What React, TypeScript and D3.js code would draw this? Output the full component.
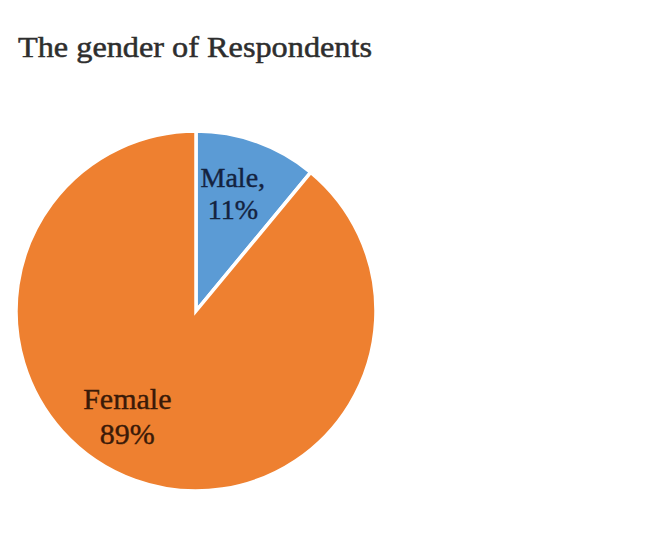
import React from "react";
import * as d3 from "d3";

const categories = ["Male", "Female"];
const values = [11, 89];
const colors = ["#5B9BD5", "#EE8030"];
const title = "The gender of Respondents";

export default function App() {
  const width = 648;
  const height = 544;
  const cx = 196;
  const cy = 311;
  const r = 180;

  const pie = d3.pie<number>().sort(null).value((d) => d);
  const arcs = pie(values);
  const arc = d3.arc<d3.PieArcDatum<number>>().innerRadius(0).outerRadius(r);
  const labelArc = d3.arc<d3.PieArcDatum<number>>().innerRadius(r * 0.68).outerRadius(r * 0.68);

  const nudge = [-0.04, 0.25];
  const fontSizes = [28, 30];
  const textColors = ["#14233f", "#3a1a08"];

  return (
    <svg width={width} height={height} style={{ position: "absolute", left: 0, top: 0, background: "#fff" }}>
      <text
        x={18}
        y={57}
        fontFamily="'Liberation Serif', 'DejaVu Serif', serif"
        fontSize={29}
        fill="#2e2e2e"
        stroke="#2e2e2e"
        strokeWidth={0.5}
        textLength={354}
        lengthAdjust="spacingAndGlyphs"
      >
        {title}
      </text>
      <g transform={`translate(${cx},${cy})`}>
        {arcs.map((a, i) => (
          <path key={i} d={arc(a) || ""} fill={colors[i]} stroke="#fff" strokeWidth={3.5} strokeLinejoin="miter" />
        ))}
        {arcs.map((a, i) => {
          const mid = (a.startAngle + a.endAngle) / 2 + nudge[i];
          const [lx, ly] = labelArc.centroid({ ...a, startAngle: mid, endAngle: mid });
          return (
            <text
              key={"l" + i}
              x={lx}
              y={ly}
              textAnchor="middle"
              fontFamily="'Liberation Serif', 'DejaVu Serif', serif"
              fontSize={fontSizes[i]}
              fill={textColors[i]}
              stroke={textColors[i]}
              strokeWidth={0.4}
            >
              <tspan x={lx} dy={i === 0 ? "-0.25em" : "-0.1em"}>
                {categories[i] + (i === 0 ? "," : "")}
              </tspan>
              <tspan x={lx} dy="1.15em">
                {values[i] + "%"}
              </tspan>
            </text>
          );
        })}
      </g>
    </svg>
  );
}
